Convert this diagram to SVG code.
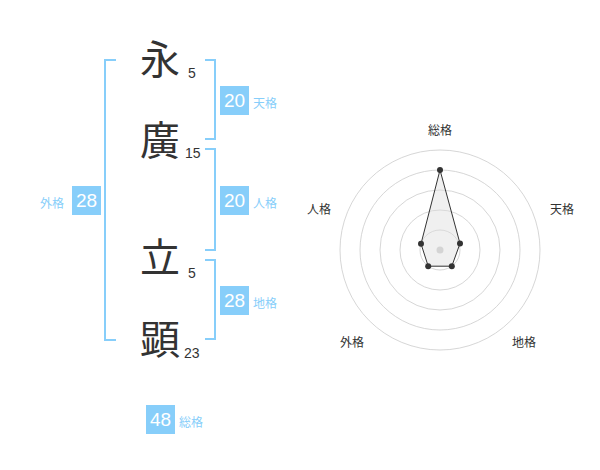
<svg xmlns="http://www.w3.org/2000/svg" width="600" height="470" viewBox="0 0 600 470">
<style>
.kanji{font-family:"Noto Sans CJK JP","Noto Sans CJK SC",sans-serif;font-size:40px;fill:#333}
.num{font-family:"Liberation Sans",Arial,sans-serif;font-size:14px;fill:#333}
.br{fill:none;stroke:#87CEFA;stroke-width:2}
.box{fill:#87CEFA}
.bt{font-family:"Liberation Sans",Arial,sans-serif;font-size:19px;fill:#fff;text-anchor:middle}
.lb{font-family:"Noto Sans CJK JP","Noto Sans CJK SC",sans-serif;font-size:12px;fill:#87CEFA}
.ring{fill:none;stroke:#ccc;stroke-width:0.8}
.rl{font-family:"Noto Sans CJK JP","Noto Sans CJK SC",sans-serif;font-size:12px;fill:#333;text-anchor:middle}
.pt{fill:#333}
</style>
<rect width="600" height="470" fill="#fff"/>
<g id="connectors">
<path class="br" d="M116,60 H105 V340 H116"/>
<path class="br" d="M205,60 H215 V139 H205"/>
<path class="br" d="M205,149 H215 V250 H205"/>
<path class="br" d="M205,260 H215 V339 H205"/>
</g>
<g id="char1"><text class="kanji" x="140" y="74">永</text><text class="num" x="188" y="78">5</text></g>
<g id="char2"><text class="kanji" x="140" y="155">廣</text><text class="num" x="185" y="158">15</text></g>
<g id="char3"><text class="kanji" x="140" y="272">立</text><text class="num" x="188" y="278">5</text></g>
<g id="char4"><text class="kanji" x="140" y="354">顕</text><text class="num" x="184" y="358">23</text></g>
<g id="tenkaku"><rect class="box" x="220" y="86" width="29" height="29"/><text class="bt" x="234.5" y="107">20</text><text class="lb" x="253" y="107.5">天格</text></g>
<g id="jinkaku"><rect class="box" x="220" y="186" width="29" height="29"/><text class="bt" x="234.5" y="207">20</text><text class="lb" x="253" y="207.5">人格</text></g>
<g id="chikaku"><rect class="box" x="220" y="286" width="29" height="29"/><text class="bt" x="234.5" y="307">28</text><text class="lb" x="253" y="307.5">地格</text></g>
<g id="gaikaku"><rect class="box" x="72" y="186" width="29" height="29"/><text class="bt" x="86.5" y="207">28</text><text class="lb" x="40" y="207.5">外格</text></g>
<g id="soukaku"><rect class="box" x="146" y="405" width="29" height="29"/><text class="bt" x="160.5" y="426">48</text><text class="lb" x="179" y="426.5">総格</text></g>
<g id="radar">
<circle class="ring" cx="440" cy="250" r="20"/>
<circle class="ring" cx="440" cy="250" r="40"/>
<circle class="ring" cx="440" cy="250" r="60"/>
<circle class="ring" cx="440" cy="250" r="80"/>
<circle class="ring" cx="440" cy="250" r="100"/>
<circle cx="440" cy="250" r="3.5" fill="#ccc"/>
<polygon points="440,170 460,243.5 451.8,266.2 428.2,266.2 421,243.8" fill="#ddd" fill-opacity="0.45" stroke="#333" stroke-width="1"/>
<circle class="pt" cx="440" cy="170" r="3"/>
<circle class="pt" cx="460" cy="243.5" r="3"/>
<circle class="pt" cx="451.8" cy="266.2" r="3"/>
<circle class="pt" cx="428.2" cy="266.2" r="3"/>
<circle class="pt" cx="421" cy="243.8" r="3"/>
<text class="rl" x="440" y="135">総格</text>
<text class="rl" x="562" y="214">天格</text>
<text class="rl" x="524" y="347">地格</text>
<text class="rl" x="352" y="347">外格</text>
<text class="rl" x="319" y="214">人格</text>
</g>
</svg>
